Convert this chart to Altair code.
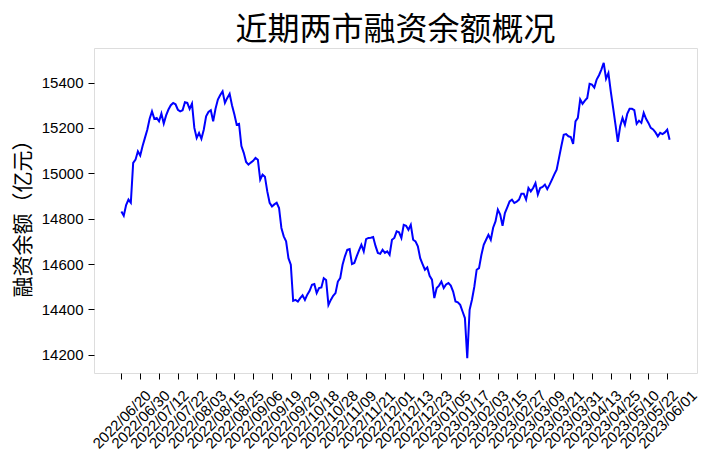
import json
import altair as alt
import pandas as pd

TITLE = "近期两市融资余额概况"
Y_TITLE = "融资余额（亿元）"

TICK_LABELS = [
    "2022/06/20", "2022/06/30", "2022/07/12", "2022/07/22", "2022/08/03",
    "2022/08/15", "2022/08/25", "2022/09/06", "2022/09/19", "2022/09/29",
    "2022/10/18", "2022/10/28", "2022/11/09", "2022/11/21", "2022/12/01",
    "2022/12/13", "2022/12/23", "2023/01/05", "2023/01/17", "2023/02/03",
    "2023/02/15", "2023/02/27", "2023/03/09", "2023/03/21", "2023/03/31",
    "2023/04/13", "2023/04/25", "2023/05/10", "2023/05/22", "2023/06/01",
]
TICK_STEP = 8  # trading days between labelled ticks

Y_TICKS = [14200, 14400, 14600, 14800, 15000, 15200, 15400]

BALANCE = [
    14832, 14813, 14860, 14884, 14870, 15046, 15060, 15097, 15078, 15120,
    15156, 15192, 15240, 15273, 15240, 15244, 15229, 15263, 15219, 15255,
    15281, 15300, 15310, 15304, 15280, 15273, 15278, 15313, 15310, 15284,
    15307, 15200, 15156, 15178, 15152, 15192, 15251, 15270, 15278, 15229,
    15284, 15325, 15345, 15361, 15310, 15332, 15350, 15300, 15260, 15214,
    15218, 15120, 15090, 15050, 15038, 15047, 15055, 15068, 15060, 14972,
    14994, 14985, 14920, 14870, 14854, 14863, 14870, 14847, 14759, 14722,
    14700, 14626, 14597, 14438, 14442, 14435, 14450, 14462, 14442, 14465,
    14482, 14509, 14512, 14472, 14494, 14497, 14538, 14530, 14420, 14442,
    14460, 14472, 14523, 14538, 14597, 14634, 14663, 14666, 14600, 14605,
    14634, 14660, 14685, 14656, 14710, 14715, 14716, 14719, 14680, 14649,
    14645, 14663, 14649, 14656, 14641, 14707, 14715, 14744, 14740, 14715,
    14773, 14769, 14751, 14773, 14707, 14700, 14678, 14626, 14600, 14575,
    14585, 14548, 14531, 14450, 14494, 14505, 14523, 14494, 14510, 14516,
    14505, 14479, 14435, 14431, 14420, 14391, 14362, 14185, 14398, 14443,
    14500, 14575, 14582, 14640, 14685, 14707, 14729, 14707, 14760, 14788,
    14840, 14818, 14769, 14825, 14850, 14876, 14884, 14869, 14875, 14884,
    14910, 14910, 14884, 14935, 14920, 14935, 14957, 14906, 14935, 14940,
    14950, 14930, 14950, 14972, 14995, 15016, 15068, 15120, 15170, 15173,
    15163, 15160, 15129, 15229, 15244, 15325, 15306, 15320, 15332, 15394,
    15391, 15378, 15413, 15432, 15457, 15487, 15417, 15442, 15361, 15288,
    15214, 15138, 15207, 15244, 15214, 15262, 15284, 15284, 15278, 15218,
    15232, 15222, 15266, 15240, 15222, 15200, 15193, 15180, 15163, 15178,
    15173, 15180, 15192, 15148,
]

df = pd.DataFrame({"idx": list(range(len(BALANCE))), "balance": BALANCE})

n = len(BALANCE) - 1
xpad = n * 0.05
ymin, ymax = min(BALANCE), max(BALANCE)
ypad = (ymax - ymin) * 0.05

label_expr = json.dumps(TICK_LABELS) + "[round(datum.value / %d)]" % TICK_STEP
x_values = [i * TICK_STEP for i in range(len(TICK_LABELS))]

CJK = "Noto Sans CJK SC"
LATIN = "Liberation Sans"

chart = (
    alt.Chart(df)
    .mark_line(color="#0000ff", strokeWidth=2)
    .encode(
        x=alt.X(
            "idx:Q",
            scale=alt.Scale(domain=[-xpad, n + xpad], nice=False, zero=False),
            axis=alt.Axis(
                values=x_values,
                labelExpr=label_expr,
                labelAngle=-45,
                labelAlign="center",
                labelBaseline="middle",
                labelPadding=40,
                labelOverlap=False,
                labelBound=False,
                labelFlush=False,
                title=None,
                grid=False,
                domain=False,
                tickSize=6,
                tickColor="black",
                labelColor="black",
                labelFont=LATIN,
                labelFontSize=15,
            ),
        ),
        y=alt.Y(
            "balance:Q",
            scale=alt.Scale(domain=[ymin - ypad, ymax + ypad], nice=False, zero=False),
            axis=alt.Axis(
                values=Y_TICKS,
                format="d",
                title=Y_TITLE,
                titleFont=CJK,
                titleFontSize=21,
                titleFontWeight="normal",
                titleColor="black",
                titleX=-71,
                titleY=165,
                titleAngle=-90,
                titleAlign="center",
                titleBaseline="middle",
                grid=False,
                domain=False,
                tickSize=6,
                tickColor="black",
                labelColor="black",
                labelFont=LATIN,
                labelFontSize=15,
                labelPadding=5,
            ),
        ),
    )
    .properties(
        width=603,
        height=325,
        title=alt.TitleParams(
            TITLE, font=CJK, fontSize=32, fontWeight="normal", color="black",
            anchor="middle", offset=1,
        ),
        autosize=alt.AutoSizeParams(type="none"),
        padding={"left": 86, "top": 40, "right": 12, "bottom": 80},
    )
    .configure_view(stroke="black", strokeWidth=1)
    .configure(background="white")
)

chart.save("out.html", embed_options={"renderer": "svg", "actions": False})
